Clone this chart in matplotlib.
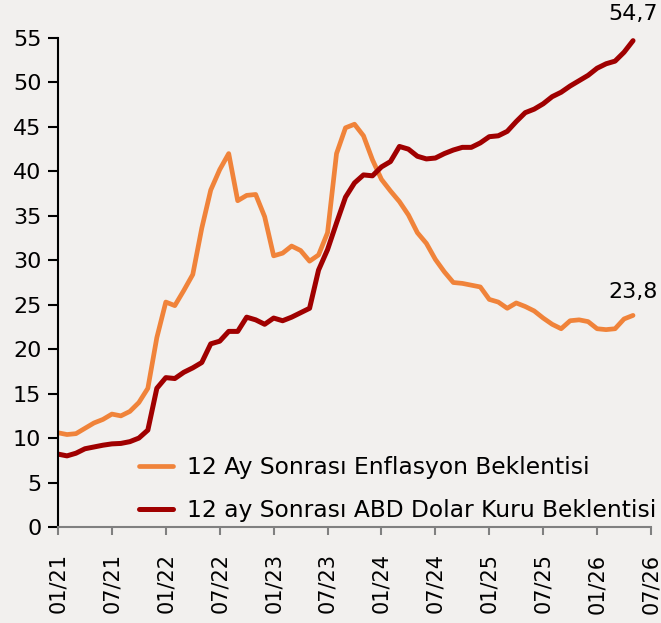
import matplotlib
matplotlib.use("Agg")
import matplotlib.pyplot as plt
import numpy as np

# Monthly observations starting 01/2021
inflation_exp = [10.6, 10.4, 10.5, 11.1, 11.7, 12.1, 12.7, 12.5, 13.0, 14.0,
                 15.6, 21.3, 25.3, 24.9, 26.6, 28.4, 33.6, 37.9, 40.2, 42.0,
                 36.7, 37.3, 37.4, 34.9, 30.5, 30.8, 31.6, 31.1, 29.9, 30.6,
                 33.1, 42.0, 44.9, 45.3, 44.0, 41.3, 39.1, 37.8, 36.6, 35.1,
                 33.1, 31.9, 30.1, 28.7, 27.5, 27.4, 27.2, 27.0, 25.6, 25.3,
                 24.6, 25.2, 24.8, 24.3, 23.5, 22.8, 22.3, 23.2, 23.3, 23.1,
                 22.3, 22.2, 22.3, 23.4, 23.8]
usd_exp = [8.2, 8.0, 8.3, 8.8, 9.0, 9.2, 9.35, 9.4, 9.6, 10.0,
           10.9, 15.6, 16.8, 16.7, 17.4, 17.9, 18.5, 20.6, 20.9, 22.0,
           22.0, 23.6, 23.3, 22.8, 23.5, 23.2, 23.6, 24.1, 24.6, 28.9,
           31.2, 34.2, 37.1, 38.7, 39.6, 39.5, 40.5, 41.1, 42.8, 42.5,
           41.7, 41.4, 41.5, 42.0, 42.4, 42.7, 42.7, 43.2, 43.9, 44.0,
           44.5, 45.6, 46.6, 47.0, 47.6, 48.4, 48.9, 49.6, 50.2, 50.8,
           51.6, 52.1, 52.4, 53.4, 54.7]
series_labels = ["12 Ay Sonrası Enflasyon Beklentisi",
                 "12 ay Sonrası ABD Dolar Kuru Beklentisi"]
tick_labels = ["01/21", "07/21", "01/22", "07/22", "01/23", "07/23",
               "01/24", "07/24", "01/25", "07/25", "01/26", "07/26"]
y_ticks = [0, 5, 10, 15, 20, 25, 30, 35, 40, 45, 50, 55]

bg = "#F2F0EE"
c_orange = "#F0833A"
c_red = "#A00000"
plt.rcParams['font.family'] = ['DejaVu Sans']

fig = plt.figure(figsize=(6.61, 6.23), dpi=100, facecolor=bg)
ax = fig.add_axes([58/661, 96/623, (651-58)/661, (527-38)/623])
ax.set_facecolor(bg)

x = np.arange(len(inflation_exp))
ax.plot(x, inflation_exp, color=c_orange, lw=3.4, solid_joinstyle='round',
        solid_capstyle='round', label=series_labels[0])
ax.plot(x, usd_exp, color=c_red, lw=3.6, solid_joinstyle='round',
        solid_capstyle='round', label=series_labels[1])

ax.set_xlim(0, 66)
ax.set_ylim(0, 55)
ax.set_xticks(np.arange(0, 67, 6))
ax.set_xticklabels(tick_labels, rotation=90, fontsize=15)
ax.set_yticks(y_ticks)
ax.set_yticklabels([str(v) for v in y_ticks], fontsize=16)

for s in ['top', 'right']:
    ax.spines[s].set_visible(False)
ax.spines['left'].set_color('black')
ax.spines['left'].set_linewidth(1.5)
ax.spines['bottom'].set_color('#808080')
ax.spines['bottom'].set_linewidth(1.5)
ax.tick_params(axis='y', direction='out', length=7, width=1.5, color='black', pad=5)
ax.tick_params(axis='x', direction='out', length=6, width=1.5, color='#808080', pad=13)

last = len(inflation_exp) - 1
ax.annotate(f"{usd_exp[-1]:.1f}".replace('.', ','), (x[last], usd_exp[-1]),
            xytext=(0, 12), textcoords='offset points', ha='center', va='bottom', fontsize=16)
ax.annotate(f"{inflation_exp[-1]:.1f}".replace('.', ','), (x[last], inflation_exp[-1]),
            xytext=(0, 10), textcoords='offset points', ha='center', va='bottom', fontsize=16)

leg = ax.legend(loc='lower right', bbox_to_anchor=(656/661, (623-522)/623),
                bbox_transform=fig.transFigure, frameon=False, fontsize=16.8,
                handlelength=1.45, handletextpad=0.6, labelspacing=0.85,
                borderaxespad=0, borderpad=0)

fig.savefig("out.png", dpi=100, facecolor=bg)
